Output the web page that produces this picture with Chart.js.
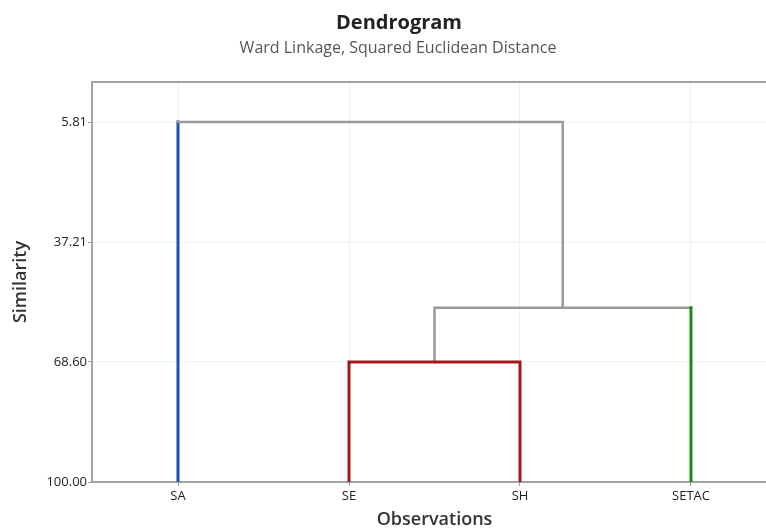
<!DOCTYPE html>
<html lang="en">
  <head>
    <meta charset="UTF-8" />
    <title>Dendrogram</title>
    <style>
      html, body { margin: 0; padding: 0; background: #fff; overflow: hidden; }
      #wrap { width: 766px; height: 532px; position: relative; overflow: hidden; }
    </style>
  </head>
  <body>
    <!-- the original plot runs a little past the right edge, so the canvas is wider than the window -->
    <div id="wrap"><canvas id="myChart" width="780" height="532"></canvas></div>

    <script src="https://cdn.jsdelivr.net/npm/chart.js@4/dist/chart.umd.min.js"></script>
    <script>
      // observations (leaves, left to right)
      const leaves = ["SA", "SE", "SH", "SETAC"];
      // merges: node index 0-3 = leaves, 4.. = clusters made by earlier merges
      const mergeLeft = [1, 4, 0];
      const mergeRight = [2, 3, 5];
      const mergeSimilarity = [68.60, 54.40, 5.81];
      const simTicks = [5.81, 37.21, 68.60, 100.00];

      const FONT = "'Segoe UI', 'Open Sans', sans-serif";
      const GRAY = "#9b9b9b";
      const leafColors = ["#1d4fae", "#a11a1b", "#a11a1b", "#18891c"];

      // build node positions from the merge list
      const nodeX = leaves.map((_, i) => i);
      const nodeY = leaves.map(() => 100);
      const nodeColor = leafColors.slice();
      const datasets = [];

      mergeLeft.forEach((l, k) => {
        const r = mergeRight[k];
        const h = mergeSimilarity[k];
        const barColor = nodeColor[l] === nodeColor[r] ? nodeColor[l] : GRAY;
        const cols = [nodeColor[l], barColor, nodeColor[r]];
        datasets.push({
          data: [
            { x: nodeX[l], y: nodeY[l] },
            { x: nodeX[l], y: h },
            { x: nodeX[r], y: h },
            { x: nodeX[r], y: nodeY[r] }
          ],
          borderColor: barColor,
          borderWidth: 3,
          borderCapStyle: "square",
          borderJoinStyle: "miter",
          pointRadius: 0,
          fill: false,
          tension: 0,
          segment: {
            borderColor: ctx => cols[ctx.p0DataIndex],
            borderWidth: ctx => (cols[ctx.p0DataIndex] === GRAY ? 2.5 : 3)
          }
        });
        nodeX.push((nodeX[l] + nodeX[r]) / 2);
        nodeY.push(h);
        nodeColor.push(GRAY);
      });

      // chart title + subtitle, placed like the original
      const titles = {
        id: "titles",
        afterDraw(chart) {
          const c = chart.ctx;
          c.save();
          c.textAlign = "center";
          c.textBaseline = "alphabetic";
          c.fillStyle = "#222";
          c.font = "bold 20px " + FONT;
          c.fillText("Dendrogram", 399, 29);
          c.fillStyle = "#555";
          c.font = "16px " + FONT;
          c.fillText("Ward Linkage, Squared Euclidean Distance", 398, 53);
          c.restore();
        }
      };

      new Chart(document.getElementById("myChart"), {
        type: "line",
        data: { datasets: datasets },
        plugins: [titles],
        options: {
          responsive: false,
          animation: false,
          layout: { padding: { top: 82, left: 0, right: 3, bottom: 0 } },
          plugins: { legend: { display: false }, tooltip: { enabled: false } },
          scales: {
            x: {
              type: "linear",
              position: "bottom",
              min: -0.503,
              max: 3.503,
              afterFit: s => { s.height = 50; },
              afterBuildTicks: s => { s.ticks = leaves.map((_, i) => ({ value: i })); },
              ticks: {
                callback: v => leaves[v],
                font: { family: FONT, size: 13 },
                color: "#222",
                padding: 2,
                maxRotation: 0
              },
              grid: { color: "#f0f0f0", tickColor: GRAY, tickLength: 4 },
              border: { color: "#a3a3a3", width: 2 },
              title: {
                display: true,
                text: "Observations",
                font: { family: FONT, size: 18, weight: "600" },
                color: "#333",
                padding: { top: 0, bottom: 1 }
              }
            },
            xTop: {
              type: "linear",
              position: "top",
              min: -0.503,
              max: 3.503,
              afterFit: s => { s.height = 0; },
              ticks: { display: false },
              grid: { display: false },
              border: { color: "#a3a3a3", width: 2 }
            },
            y: {
              type: "linear",
              reverse: true,
              min: -4.66,
              max: 100,
              afterFit: s => { s.width = 92; },
              afterBuildTicks: s => { s.ticks = simTicks.map(v => ({ value: v })); },
              ticks: {
                callback: v => v.toFixed(2),
                font: { family: FONT, size: 13 },
                color: "#222",
                padding: 1
              },
              grid: { color: "#f0f0f0", tickColor: GRAY, tickLength: 4 },
              border: { color: "#a3a3a3", width: 2 },
              title: {
                display: true,
                text: "Similarity",
                font: { family: FONT, size: 18, weight: "600" },
                color: "#333",
                padding: { top: 10, bottom: 0 }
              }
            }
          }
        }
      });
    </script>
  </body>
</html>
